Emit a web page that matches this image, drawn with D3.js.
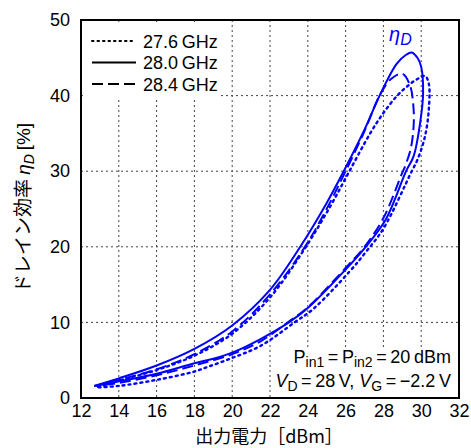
<!DOCTYPE html>
<html>
<head>
<meta charset="utf-8">
<script src="https://cdn.jsdelivr.net/npm/d3@7"></script>
<style>
  body { margin: 0; background: #fff; }
  text { font-family: "Liberation Sans", Arial, sans-serif; }
</style>
</head>
<body>
<script>
let width = 471;
let height = 448;
let marges = { top: 20, right: 12, bottom: 50, left: 81 };

// Données : [Pout dBm, ηD %], boucle parcourue haut -> pic -> bas
let pts276 = [
  [12.9, 1.5], [14, 2.3], [16, 3.7], [18, 5.6], [20, 8.5], [22, 13.3], [23.9, 20],
  [25.2, 25.4], [26.2, 30], [27.3, 35], [28.0, 37.7], [28.7, 39.9], [29.25, 41.2],
  [29.8, 42.2], [30.2, 42.6], [30.4, 41.6], [30.4, 38.1], [30.2, 34.6], [29.8, 31.5],
  [29.5, 30], [28.0, 22.4], [27.1, 19.4], [26.2, 16.7], [24.3, 11.8], [23.3, 10],
  [21.5, 6.9], [20, 5.3], [18.8, 4.2], [18, 3.5], [16, 2.4], [14, 1.6], [12.9, 1.4]
];
let pts280 = [
  [12.7, 1.6], [14, 2.6], [16, 4.3], [18, 6.5], [20, 9.6], [22, 14.3], [23.6, 20],
  [25.0, 25.8], [25.9, 30], [27.0, 35.5], [27.8, 40], [28.7, 44.2], [29.2, 45.4],
  [29.5, 45.7], [29.8, 45.0], [30.0, 43.8], [30.1, 40.3], [29.95, 36.5], [29.6, 32],
  [29.2, 30], [28.1, 23.5], [27.0, 19.8], [26.0, 17.0], [24.0, 11.9], [23.0, 10],
  [21.5, 7.8], [20, 6.0], [19, 5.2], [18, 4.6], [16, 3.2], [14, 2.2], [12.7, 1.6]
];
let pts284 = [
  [12.7, 1.6], [14, 2.4], [16, 3.8], [18, 5.8], [20, 8.8], [22, 13.7], [23.85, 20],
  [25.1, 25.5], [26.0, 30], [27.0, 35.3], [27.8, 40], [28.4, 42.2], [29.0, 42.9],
  [29.4, 41.4], [29.58, 38.8], [29.6, 36.0], [29.45, 33.0], [29.2, 31.0], [28.95, 29.5],
  [28.0, 23.8], [27.0, 20.0], [26.0, 17.2], [24.0, 12.0], [23.0, 10.1], [21.5, 7.5],
  [20, 5.8], [18, 4.3], [16, 3.0], [14, 2.0], [12.7, 1.6]
];

let series = [
  { nom: "27.6 GHz", pts: pts276, dash: "2,4", cap: "round" },
  { nom: "28.0 GHz", pts: pts280, dash: null, cap: "butt" },
  { nom: "28.4 GHz", pts: pts284, dash: "11,5", cap: "butt" }
];

let xTicks = [12, 14, 16, 18, 20, 22, 24, 26, 28, 30, 32];
let yTicks = [0, 10, 20, 30, 40, 50];

let w = width - marges.left - marges.right;
let h = height - marges.top - marges.bottom;

let svg = d3.select("body").append("svg")
    .attr("width", width)
    .attr("height", height);

let canevas = svg.append("g")
    .attr("transform", "translate(" + marges.left + "," + marges.top + ")");

let x = d3.scaleLinear().domain([12, 32]).range([0, w]);
let y = d3.scaleLinear().domain([0, 50]).range([h, 0]);

// Grille pointillée
canevas.append("g")
    .selectAll("line")
    .data(xTicks.slice(1, -1))
    .enter()
    .append("line")
    .attr("x1", d => x(d)).attr("x2", d => x(d))
    .attr("y1", 0).attr("y2", h)
    .attr("stroke", "#444")
    .attr("stroke-width", 1)
    .attr("stroke-dasharray", "2,3");

canevas.append("g")
    .selectAll("line")
    .data(yTicks.slice(1, -1))
    .enter()
    .append("line")
    .attr("x1", 0).attr("x2", w)
    .attr("y1", d => y(d)).attr("y2", d => y(d))
    .attr("stroke", "#444")
    .attr("stroke-width", 1)
    .attr("stroke-dasharray", "2,3");

// Fonds blancs de la légende et de l'annotation
canevas.append("rect")
    .attr("x", 5).attr("y", 2).attr("width", 133).attr("height", 76)
    .attr("fill", "#fff");
canevas.append("rect")
    .attr("x", 195).attr("y", 327).attr("width", w - 197).attr("height", h - 328)
    .attr("fill", "#fff");

// Axes
let axeX = canevas.append("g")
    .attr("transform", "translate(0," + h + ")")
    .call(d3.axisBottom(x).tickValues(xTicks).tickSize(0).tickPadding(6));
let axeY = canevas.append("g")
    .call(d3.axisLeft(y).tickValues(yTicks).tickSize(0).tickPadding(11));

[axeX, axeY].forEach(a => {
    a.select(".domain").remove();
    a.selectAll("text")
        .style("font-family", "'Liberation Sans', Arial, sans-serif")
        .style("font-size", "18px")
        .attr("fill", "#000");
});

// Courbes
let ligne = d3.line()
    .x(d => x(d[0]))
    .y(d => y(d[1]))
    .curve(d3.curveCatmullRom.alpha(0.5));

canevas.append("g")
    .selectAll("path")
    .data(series)
    .enter()
    .append("path")
    .attr("d", d => ligne(d.pts))
    .attr("fill", "none")
    .attr("stroke", "#0000ff")
    .attr("stroke-width", d => d.dash === "2,4" ? 2.4 : 2)
    .attr("stroke-linecap", d => d.cap)
    .attr("stroke-dasharray", d => d.dash);

// Cadre
canevas.append("rect")
    .attr("x", 0).attr("y", 0).attr("width", w).attr("height", h)
    .attr("fill", "none")
    .attr("stroke", "#000")
    .attr("stroke-width", 2);

// Légende
let legende = canevas.append("g")
    .attr("transform", "translate(11,21)");
series.forEach(function(s, i) {
    let g = legende.append("g").attr("transform", "translate(0," + (i * 21.5) + ")");
    g.append("line")
        .attr("x1", 0).attr("x2", 44)
        .attr("y1", 0).attr("y2", 0)
        .attr("stroke", "#000")
        .attr("stroke-width", 2)
        .attr("stroke-linecap", s.cap)
        .attr("stroke-dasharray", s.dash === "2,4" ? "1.5,4" : s.dash);
    g.append("text")
        .attr("x", 51).attr("y", 6.5)
        .style("font-size", "18px")
        .text(s.nom.replace(" ", "\u2009"));
});

// Étiquette ηD
let eta = canevas.append("text")
    .attr("x", x(28.3)).attr("y", y(47.2))
    .attr("fill", "#0000ff")
    .style("font-size", "20px")
    .style("font-style", "italic");
eta.append("tspan").text("η");
eta.append("tspan").attr("dy", 4).style("font-size", "16px").text("D");

// Annotation conditions
let ann = canevas.append("g").attr("font-size", "18px");
let l1 = ann.append("text")
    .attr("x", w - 8).attr("y", 343)
    .attr("text-anchor", "end");
l1.append("tspan").text("P");
l1.append("tspan").attr("dy", 4).style("font-size", "14px").text("in1");
l1.append("tspan").attr("dy", -4).text("\u2009=\u2009P");
l1.append("tspan").attr("dy", 4).style("font-size", "14px").text("in2");
l1.append("tspan").attr("dy", -4).text("\u2009=\u200920\u2009dBm");

let l2 = ann.append("text")
    .attr("x", w - 8).attr("y", 367)
    .attr("text-anchor", "end");
l2.append("tspan").style("font-style", "italic").text("V");
l2.append("tspan").attr("dy", 4).style("font-size", "14px").text("D");
l2.append("tspan").attr("dy", -4).text("\u2009=\u200928\u2009V, ");
l2.append("tspan").style("font-style", "italic").text("V");
l2.append("tspan").attr("dy", 4).style("font-size", "14px").text("G");
l2.append("tspan").attr("dy", -4).text("\u2009=\u2009\u22122.2\u2009V");

// Titres des axes
svg.append("text")
    .attr("x", marges.left + w / 2 - 1)
    .attr("y", 443)
    .attr("text-anchor", "middle")
    .style("font-size", "18px")
    .style("font-family", "'Noto Sans CJK JP', sans-serif")
    .text("出力電力［dBm］");

let titreY = svg.append("text")
    .attr("transform", "translate(30,208) rotate(-90)")
    .attr("text-anchor", "middle")
    .style("font-size", "19px")
    .style("font-family", "'Noto Sans CJK JP', sans-serif");
titreY.append("tspan").text("ドレイン効率 ");
titreY.append("tspan").style("font-style", "italic").style("font-family", "'Liberation Sans', sans-serif").text("η");
titreY.append("tspan").attr("dy", 4).style("font-size", "14px").style("font-style", "italic")
    .style("font-family", "'Liberation Sans', sans-serif").text("D");
titreY.append("tspan").attr("dy", -4).style("font-family", "'Liberation Sans', sans-serif").text("\u2009[%]");
</script>
</body>
</html>
